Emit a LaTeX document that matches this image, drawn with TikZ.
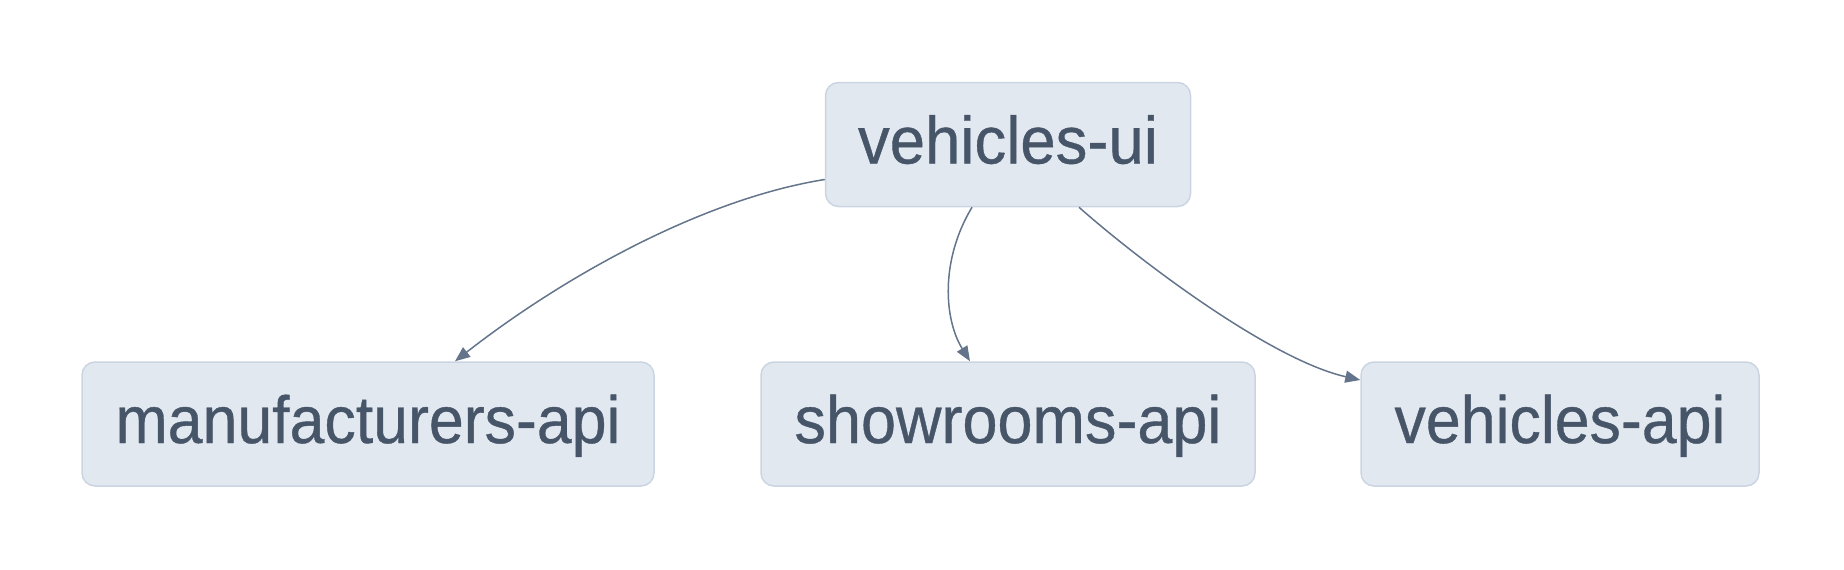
\documentclass[tikz,border=0pt]{standalone}
\usepackage{fontspec}
\setmainfont{Liberation Sans}
\newfontfamily\svcfont[FakeBold=0.6]{Liberation Sans}
\usepackage{graphicx}
\usetikzlibrary{arrows.meta}
\definecolor{boxfill}{HTML}{E2E8F0}
\definecolor{boxline}{HTML}{CBD5E1}
\definecolor{txtcol}{HTML}{475569}
\definecolor{arrcol}{HTML}{64748B}
\newcommand{\svclabel}[2]{\resizebox{#1}{1.06\height}{#2}}
\tikzset{
  svc/.style={rectangle, rounded corners=13pt, fill=boxfill, draw=boxline, line width=1.5pt,
    minimum height=124pt, inner sep=0pt, text=txtcol, font=\svcfont\fontsize{63}{70}\selectfont,
    text height=48pt, text depth=10pt},
  dep/.style={draw=arrcol, line width=1.5pt, -{Triangle[length=15pt,width=12pt]}}
}
\begin{document}
\begin{tikzpicture}[x=1pt,y=-1pt]
\useasboundingbox (0,0) rectangle (1844,570);
\node[svc, minimum width=365pt] (ui) at (1008,144.5) {\svclabel{300pt}{vehicles-ui}};
\node[svc, minimum width=572pt] (man) at (368,424) {\svclabel{505pt}{manufacturers-api}};
\node[svc, minimum width=494pt] (show) at (1008,424) {\svclabel{427pt}{showrooms-api}};
\node[svc, minimum width=398pt] (vapi) at (1560,424) {\svclabel{331pt}{vehicles-api}};
\draw[dep] ([yshift=-35pt]ui.west) .. controls +(-125,20) and +(105,-82) .. ([xshift=87pt]man.north);
\draw[dep] ([xshift=-36pt]ui.south) .. controls +(-32,53) and +(-26,-42) .. ([xshift=-38pt]show.north);
\draw[dep] ([xshift=71pt]ui.south) .. controls +(61,54) and +(-89,-20) .. ([yshift=44pt]vapi.west);
\end{tikzpicture}
\end{document}
